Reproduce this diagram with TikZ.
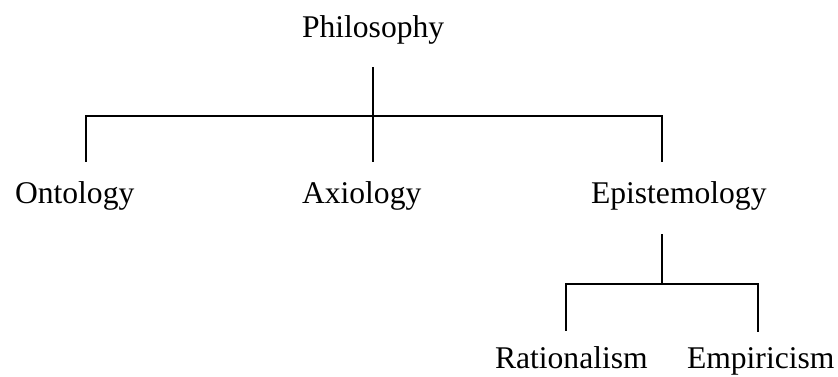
\documentclass[tikz,border=0pt]{standalone}
\usepackage{fontspec}
\setmainfont{Liberation Serif}
\usetikzlibrary{positioning}
\hyphenpenalty=10000
\tikzset{
  term/.style={
    inner sep=0pt,text width=71pt,align=left,anchor=base,
    font=\fontsize{15.8pt}{19pt}\selectfont
  },
  branch/.style={line width=1pt,draw=black},
  up/.style={shorten <=#1},
  down/.style={shorten >=#1}
}
\begin{document}
\begin{tikzpicture}[x=0.5pt,y=-0.5pt]
  \useasboundingbox (0,0) rectangle (838,376);
  \node[term] (philo) at (373,37) {Philosophy};
  \node[term] (onto) at (86,203) {Ontology};
  \node[term] (axio) at (373,203) {Axiology};
  \node[term] (epis) at (662,203) {Epistemology};
  \node[term] (ratio) at (566,368) {Rationalism};
  \node[term] (empi) at (758,368) {Empiricism};
  \coordinate (split) at (373,116);
  \coordinate (splitb) at (662,284);
  \draw[branch,up=11.5pt,down=9.5pt] (philo.south) -- (axio.north);
  \draw[branch,up=9.5pt,down=9.5pt] (onto.north) |- (split) -| (epis.north);
  \draw[branch,up=12pt] (epis.south) -- (splitb);
  \draw[branch,up=7.5pt,down=7.5pt] (ratio.north) |- (splitb) -| (empi.north);
\end{tikzpicture}
\end{document}
